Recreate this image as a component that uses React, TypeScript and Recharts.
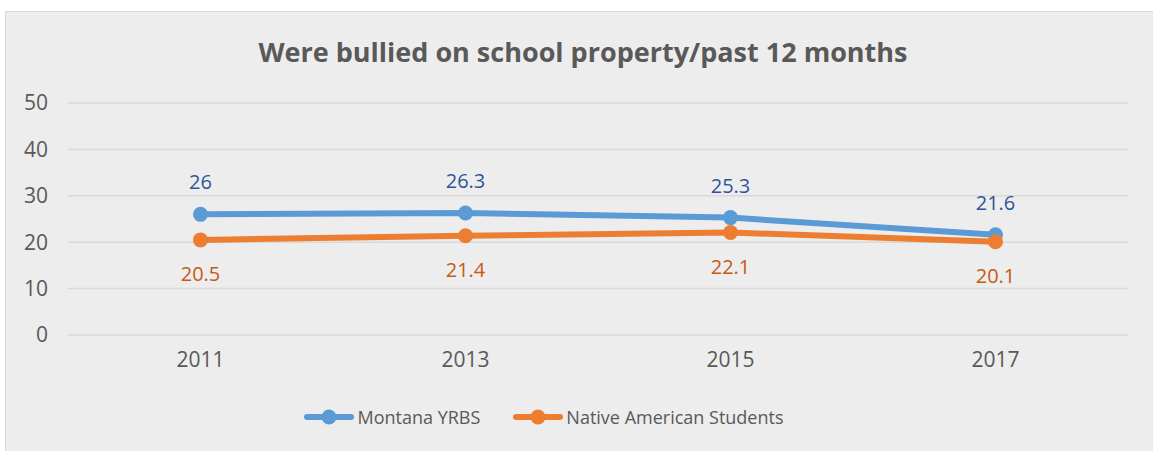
import React from "react";
import {
  LineChart,
  Line,
  XAxis,
  YAxis,
  CartesianGrid,
  Legend,
  LabelList,
} from "recharts";

const years = ["2011", "2013", "2015", "2017"];
const montana = [26, 26.3, 25.3, 21.6];
const nativeAmerican = [20.5, 21.4, 22.1, 20.1];
const yTicks = [0, 10, 20, 30, 40, 50];

const data = years.map((year, i) => ({
  year,
  montana: montana[i],
  native: nativeAmerican[i],
}));

const FONT = "'Open Sans', sans-serif";
const BLUE = "#5B9BD5";
const ORANGE = "#ED7D31";

function LegendContent() {
  const items = [
    { label: "Montana YRBS", color: BLUE },
    { label: "Native American Students", color: ORANGE },
  ];
  return (
    <div
      style={{
        display: "flex",
        justifyContent: "center",
        gap: 33,
        paddingRight: 40,
        fontFamily: FONT,
        fontSize: 18,
        color: "#595959",
      }}
    >
      {items.map((it) => (
        <div key={it.label} style={{ display: "flex", alignItems: "center" }}>
          <svg width={50} height={16} style={{ marginRight: 3 }}>
            <line
              x1={3}
              y1={8}
              x2={47}
              y2={8}
              stroke={it.color}
              strokeWidth={6}
              strokeLinecap="round"
            />
            <circle cx={25} cy={8} r={7.5} fill={it.color} />
          </svg>
          <span>{it.label}</span>
        </div>
      ))}
    </div>
  );
}

export default function App() {
  return (
    <div
      style={{
        position: "absolute",
        left: 0,
        top: 0,
        width: 1153,
        height: 451,
        background: "#FFFFFF",
        overflow: "hidden",
      }}
    >
      <div
        style={{
          position: "absolute",
          left: 5,
          top: 11,
          width: 1148,
          height: 440,
          background: "#EDEDED",
          borderLeft: "1px solid #D9D9D9",
          borderTop: "1px solid #D9D9D9",
        }}
      />
      <div
        style={{
          position: "absolute",
          left: 0,
          top: 33,
          width: 1166,
          textAlign: "center",
          fontFamily: FONT,
          fontWeight: 700,
          fontSize: 27,
          color: "#595959",
        }}
      >
        Were bullied on school property/past 12 months
      </div>
      <div style={{ position: "absolute", left: 0, top: 0 }}>
        <LineChart
          width={1153}
          height={451}
          data={data}
          margin={{ top: 103, right: 25, left: 0, bottom: 22 }}
        >
          <CartesianGrid
            vertical={false}
            stroke="#D9D9D9"
            strokeWidth={1.5}
          />
          <XAxis
            dataKey="year"
            axisLine={false}
            tickLine={false}
            tickSize={0}
            tickMargin={17}
            height={70}
            padding={{ left: 132.5, right: 132.5 }}
            tick={{ fontFamily: FONT, fontSize: 21, fill: "#595959" }}
          />
          <YAxis
            domain={[0, 50]}
            ticks={yTicks}
            axisLine={false}
            tickLine={false}
            tickSize={0}
            tickMargin={20}
            width={68}
            tick={{ fontFamily: FONT, fontSize: 21, fill: "#595959" }}
          />
          <Legend verticalAlign="bottom" content={<LegendContent />} />
          <Line
            type="linear"
            dataKey="montana"
            name="Montana YRBS"
            stroke={BLUE}
            strokeWidth={6}
            dot={{ r: 7.5, fill: BLUE, stroke: BLUE, strokeWidth: 0 }}
            isAnimationActive={false}
          >
            <LabelList
              dataKey="montana"
              position="top"
              offset={25}
              style={{ fontFamily: FONT, fontSize: 20, fill: "#2F5597" }}
            />
          </Line>
          <Line
            type="linear"
            dataKey="native"
            name="Native American Students"
            stroke={ORANGE}
            strokeWidth={6}
            dot={{ r: 7.5, fill: ORANGE, stroke: ORANGE, strokeWidth: 0 }}
            isAnimationActive={false}
          >
            <LabelList
              dataKey="native"
              position="bottom"
              offset={27}
              style={{ fontFamily: FONT, fontSize: 20, fill: "#C55A11" }}
            />
          </Line>
        </LineChart>
      </div>
    </div>
  );
}
